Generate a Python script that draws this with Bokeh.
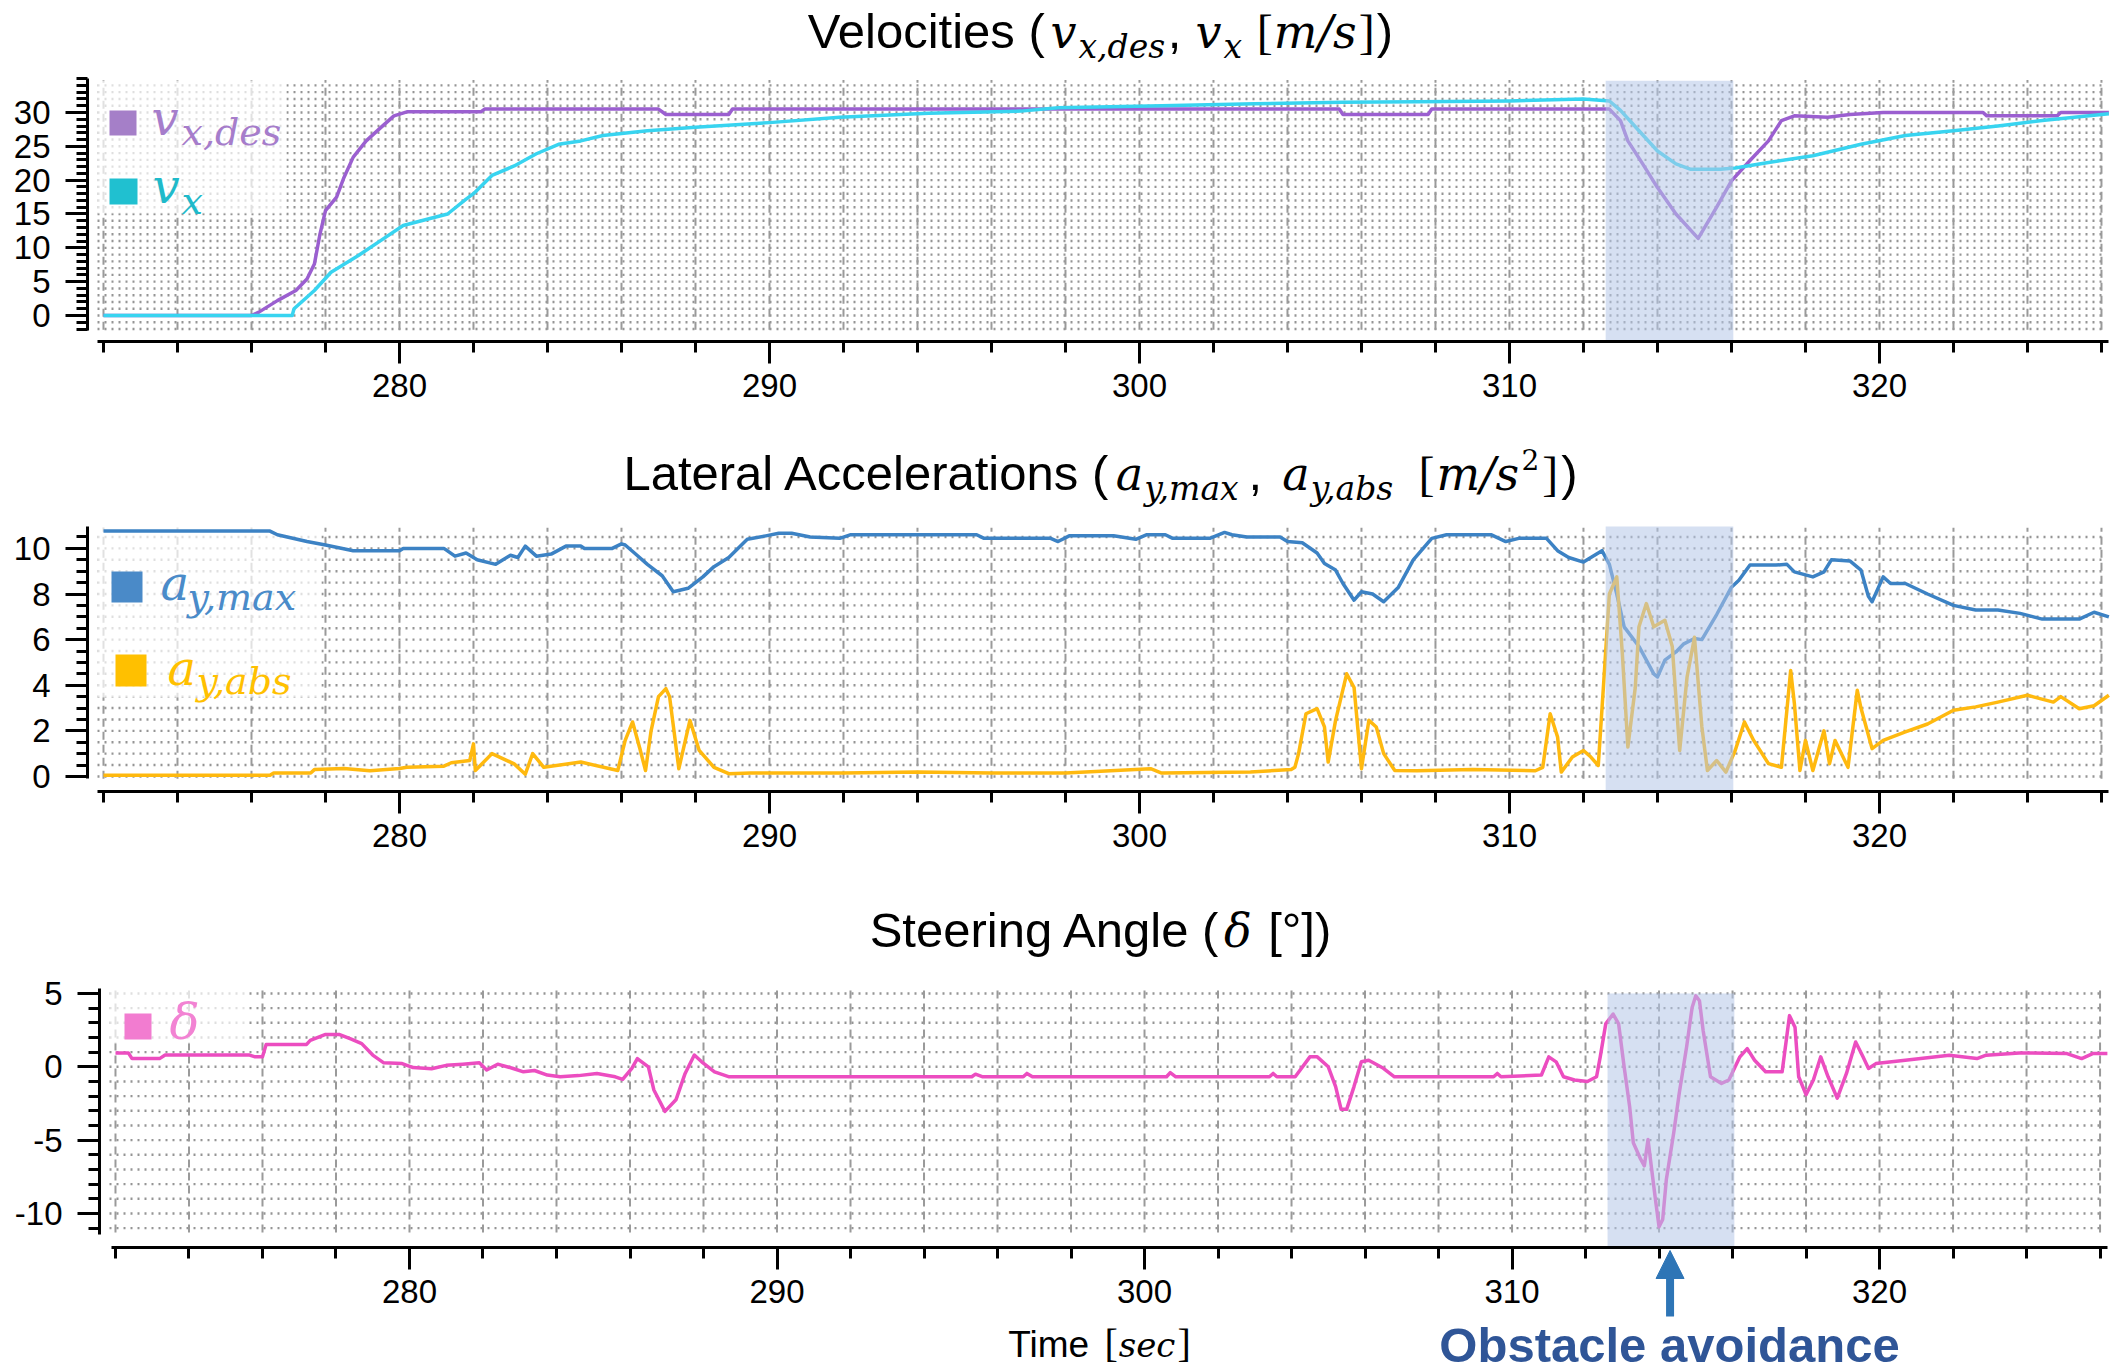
from bokeh.plotting import figure
from bokeh.layouts import column
from bokeh.models import Range1d, FixedTicker, Label, Arrow, NormalHead, PrintfTickFormatter
from bokeh.embed import file_html
from bokeh.resources import INLINE

# ---------------- data (time [s], value) ----------------
vx_des_pts = [(272.0, 0), (276.0, 0), (276.2, 0.5), (276.7, 2.2), (277.2, 3.7), (277.5, 5.4), (277.7, 7.6),
              (277.85, 12.0), (278.0, 15.5), (278.3, 17.5), (278.5, 20.4), (278.75, 23.4), (279.1, 25.8),
              (279.5, 27.8), (279.85, 29.5), (280.2, 30.1), (282.2, 30.1), (282.3, 30.5), (287.0, 30.5),
              (287.2, 29.7), (288.9, 29.7), (289.0, 30.5), (305.4, 30.5), (305.5, 29.7), (307.8, 29.7),
              (307.9, 30.5), (312.7, 30.5), (313.0, 28.8), (313.2, 25.8), (313.6, 22.4), (314.0, 18.9),
              (314.5, 15.0), (315.1, 11.4), (315.6, 16.0), (316.0, 19.9), (316.5, 22.9), (317.0, 25.8),
              (317.35, 28.8), (317.7, 29.5), (318.6, 29.3), (319.2, 29.7), (320.1, 30.0), (322.8, 30.0),
              (322.9, 29.5), (324.8, 29.5), (324.9, 30.0), (326.2, 30.0)]

vx_pts = [(272.0, 0), (277.1, 0), (277.15, 1.0), (277.7, 3.7), (278.15, 6.4), (278.9, 8.9), (279.5, 11.1),
          (280.1, 13.3), (280.8, 14.3), (281.3, 15.0), (281.8, 17.2), (282.0, 18.0), (282.5, 20.7),
          (283.1, 22.1), (283.7, 23.9), (284.3, 25.3), (284.9, 25.8), (285.5, 26.6), (286.7, 27.3),
          (288.0, 27.8), (290.0, 28.5), (291.9, 29.3), (294.3, 29.9), (296.8, 30.2), (297.8, 30.7),
          (300.6, 31.0), (303.1, 31.3), (305.5, 31.5), (307.5, 31.6), (310.0, 31.7), (312.0, 32.0),
          (312.7, 31.7), (313.0, 30.3), (313.5, 27.3), (314.0, 24.3), (314.5, 22.4), (314.9, 21.6),
          (315.7, 21.6), (316.1, 21.8), (317.0, 22.6), (318.2, 23.6), (319.5, 25.3), (320.7, 26.6),
          (322.0, 27.3), (323.2, 28.0), (324.4, 28.8), (326.2, 29.8)]

ay_max_pts = [(272.0, 10.76), (276.5, 10.76), (276.7, 10.6), (277.5, 10.3), (278.0, 10.15), (278.75, 9.9),
              (280.0, 9.9), (280.1, 10.0), (281.2, 10.0), (281.5, 9.66), (281.8, 9.8), (282.1, 9.5),
              (282.6, 9.3), (283.0, 9.7), (283.2, 9.6), (283.4, 10.1), (283.7, 9.66), (284.1, 9.75),
              (284.5, 10.1), (284.9, 10.1), (285.0, 10.0), (285.75, 10.0), (286.0, 10.2), (286.1, 10.15),
              (286.35, 9.8), (286.7, 9.3), (287.1, 8.8), (287.4, 8.1), (287.8, 8.25), (288.2, 8.75),
              (288.5, 9.2), (288.9, 9.6), (289.4, 10.4), (289.9, 10.55), (290.25, 10.66), (290.6, 10.66),
              (291.1, 10.5), (291.9, 10.44), (292.2, 10.6), (295.6, 10.6), (295.8, 10.44), (297.6, 10.44),
              (297.8, 10.3), (298.1, 10.55), (299.3, 10.55), (299.9, 10.4), (300.2, 10.6), (300.7, 10.6),
              (300.9, 10.44), (301.9, 10.44), (302.3, 10.7), (302.5, 10.6), (302.9, 10.5), (303.8, 10.5),
              (304.0, 10.3), (304.4, 10.25), (304.8, 9.8), (305.0, 9.34), (305.3, 9.05), (305.5, 8.46),
              (305.8, 7.73), (306.0, 8.1), (306.3, 8.0), (306.6, 7.66), (307.0, 8.3), (307.4, 9.5),
              (307.9, 10.44), (308.3, 10.6), (309.5, 10.6), (309.9, 10.3), (310.25, 10.44), (311.0, 10.44),
              (311.3, 9.9), (311.6, 9.6), (312.0, 9.4), (312.2, 9.6), (312.5, 9.9), (312.7, 9.3),
              (312.9, 8.0), (313.1, 6.56), (313.5, 5.7), (313.9, 4.5), (314.0, 4.36), (314.2, 5.1),
              (314.5, 5.46), (314.7, 5.8), (315.0, 6.05), (315.2, 6.0), (315.6, 7.1), (316.0, 8.3),
              (316.2, 8.6), (316.5, 9.27), (317.2, 9.27), (317.5, 9.3), (317.7, 8.97), (318.2, 8.75),
              (318.5, 8.97), (318.7, 9.5), (319.2, 9.45), (319.5, 9.05), (319.7, 7.9), (319.8, 7.66),
              (320.1, 8.75), (320.3, 8.46), (320.7, 8.46), (321.3, 8.0), (322.0, 7.5), (322.6, 7.3),
              (323.2, 7.3), (323.8, 7.15), (324.4, 6.9), (325.4, 6.9), (325.8, 7.2), (326.2, 7.0)]

ay_abs_pts = [(272.0, 0.05), (276.5, 0.05), (276.6, 0.15), (277.6, 0.15), (277.7, 0.3), (278.5, 0.35),
              (279.2, 0.25), (280.0, 0.35), (280.2, 0.4), (281.2, 0.45), (281.4, 0.6), (281.9, 0.7),
              (282.0, 1.43), (282.05, 0.26), (282.5, 1.0), (283.1, 0.55), (283.4, 0.1), (283.6, 1.0),
              (283.9, 0.4), (284.9, 0.63), (285.9, 0.26), (286.1, 1.58), (286.3, 2.39), (286.5, 1.2),
              (286.65, 0.26), (286.8, 2.0), (287.0, 3.5), (287.2, 3.85), (287.3, 3.5), (287.55, 0.34),
              (287.85, 2.46), (288.1, 1.14), (288.5, 0.4), (288.9, 0.12), (289.5, 0.15), (292.0, 0.15),
              (294.0, 0.2), (296.0, 0.15), (298.0, 0.15), (300.3, 0.34), (300.6, 0.15), (303.0, 0.2),
              (304.1, 0.3), (304.2, 0.4), (304.3, 1.0), (304.5, 2.75), (304.8, 2.97), (305.0, 2.17),
              (305.1, 0.63), (305.3, 2.46), (305.6, 4.5), (305.8, 3.9), (306.0, 0.34), (306.2, 2.46),
              (306.4, 2.17), (306.6, 1.0), (306.9, 0.26), (307.5, 0.25), (309.0, 0.3), (310.7, 0.25),
              (310.9, 0.4), (311.1, 2.75), (311.3, 1.73), (311.4, 0.19), (311.7, 0.85), (312.0, 1.14),
              (312.2, 0.85), (312.4, 0.48), (312.55, 4.2), (312.7, 8.0), (312.9, 8.75), (313.05, 5.4),
              (313.2, 1.29), (313.4, 3.9), (313.5, 6.56), (313.7, 7.58), (313.9, 6.56), (314.2, 6.85),
              (314.4, 5.7), (314.6, 1.14), (314.8, 4.36), (315.0, 6.1), (315.2, 2.17), (315.35, 0.26),
              (315.6, 0.7), (315.85, 0.19), (316.1, 1.14), (316.35, 2.39), (316.6, 1.58), (317.0, 0.56),
              (317.35, 0.4), (317.6, 4.65), (317.7, 3.2), (317.85, 0.26), (318.0, 1.58), (318.2, 0.26),
              (318.5, 2.0), (318.65, 0.56), (318.8, 1.58), (319.15, 0.4), (319.4, 3.78), (319.5, 3.0),
              (319.8, 1.22), (320.1, 1.58), (320.7, 1.95), (321.3, 2.3), (322.0, 2.9), (322.6, 3.05),
              (323.2, 3.26), (324.0, 3.56), (324.7, 3.26), (324.9, 3.5), (325.4, 2.97), (325.8, 3.1),
              (326.2, 3.56)]

delta_pts = [(272.0, 0.95), (272.35, 0.95), (272.45, 0.56), (273.2, 0.56), (273.35, 0.8), (275.65, 0.8),
             (275.8, 0.68), (276.0, 0.68), (276.1, 1.53), (277.2, 1.53), (277.3, 1.8), (277.7, 2.2),
             (278.1, 2.2), (278.4, 1.9), (278.7, 1.58), (279.0, 0.8), (279.3, 0.27), (279.8, 0.22),
             (280.1, -0.05), (280.6, -0.13), (281.0, 0.1), (281.45, 0.18), (281.9, 0.27), (282.1, -0.22),
             (282.4, 0.18), (282.8, -0.1), (283.1, -0.34), (283.4, -0.25), (283.75, -0.56), (284.1, -0.68),
             (284.6, -0.6), (285.1, -0.45), (285.6, -0.68), (285.8, -0.86), (286.05, -0.1), (286.2, 0.56),
             (286.5, 0.0), (286.65, -1.58), (286.95, -3.04), (287.25, -2.25), (287.5, -0.45), (287.75, 0.8),
             (287.95, 0.34), (288.3, -0.34), (288.7, -0.68), (295.3, -0.68), (295.4, -0.5), (295.6, -0.68),
             (296.7, -0.68), (296.8, -0.45), (296.95, -0.68), (300.6, -0.68), (300.7, -0.4), (300.85, -0.68),
             (303.4, -0.68), (303.5, -0.45), (303.6, -0.68), (304.1, -0.68), (304.5, 0.68), (304.7, 0.68),
             (305.0, 0.0), (305.2, -1.35), (305.35, -2.9), (305.5, -2.9), (305.7, -1.35), (305.9, 0.34),
             (306.1, 0.45), (306.5, -0.1), (306.8, -0.68), (309.5, -0.68), (309.6, -0.45), (309.7, -0.68),
             (310.8, -0.56), (311.0, 0.68), (311.2, 0.34), (311.4, -0.68), (311.7, -0.9), (312.05, -1.0),
             (312.3, -0.68), (312.4, 0.68), (312.55, 2.93), (312.75, 3.6), (312.9, 2.93), (313.05, 0.0),
             (313.2, -2.7), (313.3, -5.18), (313.5, -6.3), (313.6, -6.75), (313.7, -4.95), (313.8, -7.0),
             (313.9, -9.0), (314.0, -10.9), (314.1, -10.4), (314.2, -7.66), (314.4, -4.5), (314.55, -1.8),
             (314.75, 1.35), (314.9, 4.05), (315.0, 4.84), (315.1, 4.5), (315.2, 2.48), (315.4, -0.68),
             (315.7, -1.13), (315.9, -0.9), (316.2, 0.68), (316.4, 1.24), (316.6, 0.45), (316.9, -0.34),
             (317.35, -0.34), (317.55, 3.49), (317.7, 2.7), (317.8, -0.68), (318.0, -1.9), (318.2, -0.9),
             (318.4, 0.68), (318.6, -0.68), (318.85, -2.14), (319.1, -0.45), (319.35, 1.69), (319.55, 0.68),
             (319.7, -0.11), (319.9, 0.22), (320.7, 0.45), (321.9, 0.79), (322.65, 0.56), (322.9, 0.79),
             (323.8, 0.95), (325.1, 0.9), (325.5, 0.56), (325.8, 0.9), (326.2, 0.9)]

avoid_start, avoid_end = 312.6, 316.05     # shaded obstacle-avoidance window
avoid_arrow_t = 314.3

x_major = [280, 290, 300, 310, 320]
x_minor = list(range(272, 327, 2))
v_major = [0, 5, 10, 15, 20, 25, 30]
v_minor = list(range(-2, 36))
a_major = [0, 2, 4, 6, 8, 10]
a_minor = [i * 0.5 for i in range(0, 22)]
d_major = [-10, -5, 0, 5]
d_minor = list(range(-11, 6))

# ---------------- layout constants (pixel geometry of the picture) ----------------
FIG_W = 2121
SANS = "Liberation Sans"
MATH = "DejaVu Serif"
SERIF = "Liberation Serif"
BASE_SHIFT = 0.31   # Bokeh places the alphabetic baseline this many em lower than asked

# L,T,W,H: plotting area (axis-line corner) in page pixels; xr/yr: data values at its edges
SPEC = {
    "v": dict(top=0, height=418, L=87, T=78, W=2021, H=263, xr=(271.568, 326.19), yr=(-3.84, 35.02)),
    "a": dict(top=418, height=457, L=87, T=526, W=2021, H=265, xr=(271.568, 326.19), yr=(-0.66, 10.96)),
    "d": dict(top=875, height=496, L=99, T=988, W=2009, H=259, xr=(271.565, 326.23), yr=(-12.32, 5.34)),
}

# approximate advance widths (em) used to chain title pieces
ADV = {
    SANS: {' ': .278, '(': .333, ')': .333, '[': .278, ']': .278, ',': .278, '°': .4, 'A': .667,
           'L': .556, 'S': .667, 'T': .611, 'V': .667, 'a': .556, 'c': .5, 'e': .556, 'g': .556,
           'i': .222, 'l': .222, 'm': .833, 'n': .556, 'o': .556, 'r': .333, 's': .5, 't': .278},
    MATH: {'v': .586, 'x': .586, 'y': .586, 'a': .598, 'b': .637, 'd': .637, 'e': .590, 'm': .950,
           's': .519, 'c': .560, ',': .318, '/': .337, 'δ': .612, '2': .636},
    SERIF: {'[': .333, ']': .333},
}


def X(s, px):
    return s["xr"][0] + (px - s["L"]) / s["W"] * (s["xr"][1] - s["xr"][0])


def Y(s, py):
    return s["yr"][1] - (py - s["T"]) / s["H"] * (s["yr"][1] - s["yr"][0])


def make_panel(s, y_major, y_minor, y_bounds, x_bound_left_px):
    # the frame fills the whole figure; axes are pinned at the plotting-area corner
    p = figure(width=FIG_W, height=s["height"],
               x_range=Range1d(X(s, 0), X(s, FIG_W)),
               y_range=Range1d(Y(s, s["top"] + s["height"]), Y(s, s["top"])),
               output_backend="svg", toolbar_location=None,
               min_border_left=0, min_border_right=0, min_border_top=0, min_border_bottom=0)
    p.title.visible = False
    p.outline_line_color = None
    p.background_fill_color = "white"
    p.border_fill_color = "white"
    p.xgrid.visible = False
    p.ygrid.visible = False
    p.xaxis.fixed_location = s["yr"][0]
    p.yaxis.fixed_location = s["xr"][0]
    specs = ((p.xaxis[0], x_major, x_minor, (X(s, x_bound_left_px), 326.2), 10),
             (p.yaxis[0], y_major, y_minor, y_bounds, 15))
    for ax, major, minor, b, standoff in specs:
        ax.ticker = FixedTicker(ticks=major, minor_ticks=minor)
        ax.formatter = PrintfTickFormatter(format="%d")
        ax.bounds = b
        ax.axis_line_width = 3
        ax.axis_line_color = "black"
        ax.major_tick_line_width = 3
        ax.major_tick_line_color = "black"
        ax.major_tick_out = 22
        ax.major_tick_in = 0
        ax.minor_tick_line_width = 3
        ax.minor_tick_line_color = "black"
        ax.minor_tick_out = 11
        ax.minor_tick_in = 0
        ax.major_label_text_font = SANS
        ax.major_label_text_font_size = "33px"
        ax.major_label_text_color = "black"
        ax.major_label_standoff = standoff
    return p


def draw_grid(p, s, hys, hx0_px, vy0, vy1):
    hx0, hx1 = X(s, hx0_px), 326.1
    p.multi_line(xs=[[hx0, hx1] for _ in hys], ys=[[y, y] for y in hys],
                 line_color="#959595", line_width=2.4, line_dash="2 5")
    p.multi_line(xs=[[x, x] for x in x_minor], ys=[[vy0, vy1] for _ in x_minor],
                 line_color="#9a9a9a", line_width=2, line_dash="8 5")


def legend_bg(p, s, l, t, r, b):
    p.quad(left=X(s, l), right=X(s, r), top=Y(s, t), bottom=Y(s, b),
           fill_color="white", fill_alpha=0.7, line_color=None)


def legend_sq(p, s, l, t, r, b, color):
    p.quad(left=X(s, l), right=X(s, r), top=Y(s, t), bottom=Y(s, b),
           fill_color=color, line_color=None)


def shade(p, s, top):
    p.quad(left=avoid_start, right=avoid_end, bottom=s["yr"][0], top=top,
           fill_color="#B4C7E7", fill_alpha=0.55, line_color=None)


def txt(p, s, text, px, py, size, font=SANS, style="normal", color="black", align="left"):
    p.add_layout(Label(x=X(s, px), y=Y(s, py - BASE_SHIFT * size), text=text, text_font=font,
                       text_font_size=f"{size}px", text_font_style=style,
                       text_color=color, text_align=align, text_baseline="alphabetic"))


def rich(p, s, runs, center_px, base_py, color="black"):
    # runs: (text, font, size, style, baseline shift, extra gap before)
    widths = [sum(ADV[f].get(ch, .55) for ch in t) * sz for t, f, sz, st, dy, g in runs]
    total = sum(widths) + sum(r[5] for r in runs)
    x = center_px - total / 2
    for (t, f, sz, st, dy, g), w in zip(runs, widths):
        x += g
        txt(p, s, t, x, base_py + dy, sz, f, st, color)
        x += w


def series(p, pts, color):
    t = [a for a, _ in pts]
    v = [b for _, b in pts]
    p.line(t, v, line_color=color, line_width=3.5, line_join="round")


TS, MS, SS = 49, 46, 33     # title sans, math and subscript sizes

# ---------------- panel 1: velocities ----------------
s1 = SPEC["v"]
p1 = make_panel(s1, v_major, v_minor, (-2.2, 35.0), 97)
draw_grid(p1, s1, list(range(-2, 35)), 97, -2.1, 34.8)
legend_bg(p1, s1, 97, 80, 286, 213)
series(p1, vx_des_pts, "#9B5FD0")
series(p1, vx_pts, "#38D4F0")
shade(p1, s1, 34.7)
legend_sq(p1, s1, 109, 110, 136, 135, "#A57FC8")
legend_sq(p1, s1, 109, 178, 137, 204, "#20C0D0")
txt(p1, s1, "v", 151, 132, 48, MATH, "italic", "#A67DCB")
txt(p1, s1, "x,des", 181, 143, 38, MATH, "italic", "#A67DCB")
txt(p1, s1, "v", 152, 200, 48, MATH, "italic", "#1FBACA")
txt(p1, s1, "x", 181, 212, 38, MATH, "italic", "#1FBACA")
rich(p1, s1, [("Velocities (", SANS, TS, "normal", 0, 0),
              ("v", MATH, MS, "italic", 0, 3),
              ("x,des", MATH, SS, "italic", 10, 1),
              (",", SANS, TS, "normal", 0, 2),
              ("v", MATH, MS, "italic", 0, 14),
              ("x", MATH, SS, "italic", 10, 1),
              ("[", SERIF, 48, "normal", 0, 14),
              ("m/s", MATH, MS, "italic", 0, 1),
              ("]", SERIF, 48, "normal", 0, 2),
              (")", SANS, TS, "normal", 0, 2)], 1100, 46)

# ---------------- panel 2: lateral accelerations ----------------
s2 = SPEC["a"]
p2 = make_panel(s2, a_major, a_minor, (-0.1, 10.96), 97)
draw_grid(p2, s2, [i * 0.5 for i in range(0, 22)], 97, -0.1, 10.9)
legend_bg(p2, s2, 97, 527, 321, 697)
series(p2, ay_max_pts, "#3C82C4")
series(p2, ay_abs_pts, "#FFB90F")
shade(p2, s2, s2["yr"][1])
legend_sq(p2, s2, 111, 571, 142, 602, "#4A8AC8")
legend_sq(p2, s2, 115, 654, 146, 686, "#FFC000")
txt(p2, s2, "a", 160, 597, 48, MATH, "italic", "#4A8BC9")
txt(p2, s2, "y,max", 187, 608, 38, MATH, "italic", "#4A8BC9")
txt(p2, s2, "a", 167, 682, 48, MATH, "italic", "#FFC000")
txt(p2, s2, "y,abs", 196, 692, 38, MATH, "italic", "#FFC000")
rich(p2, s2, [("Lateral Accelerations (", SANS, TS, "normal", 0, 0),
              ("a", MATH, MS, "italic", 0, 5),
              ("y,max", MATH, SS, "italic", 10, 1),
              (",", SANS, TS, "normal", 0, 4),
              ("a", MATH, MS, "italic", 0, 20),
              ("y,abs", MATH, SS, "italic", 10, 1),
              ("[", SERIF, 48, "normal", 0, 20),
              ("m/s", MATH, MS, "italic", 0, 2),
              ("2", MATH, 28, "normal", -20, 2),
              ("]", SERIF, 48, "normal", 0, 3),
              (")", SANS, TS, "normal", 0, 3)], 1100, 488)

# ---------------- panel 3: steering angle ----------------
s3 = SPEC["d"]
p3 = make_panel(s3, d_major, d_minor, (-11.4, 5.34), 111)
draw_grid(p3, s3, list(range(-11, 6)), 109, -11.3, 5.2)
legend_bg(p3, s3, 109, 988, 248, 1043)
series(p3, delta_pts, "#EC4DC0")
shade(p3, s3, 5.0)
legend_sq(p3, s3, 124, 1013, 151, 1039, "#F27CD0")
txt(p3, s3, "δ", 169, 1037, 50, MATH, "italic", "#F283D3")
rich(p3, s3, [("Steering Angle (", SANS, TS, "normal", 0, 0),
              ("δ", MATH, MS, "italic", 0, 3),
              ("[°])", SANS, TS, "normal", 0, 16)], 1100, 945)
rich(p3, s3, [("Time", SANS, 37, "normal", 0, 0),
              ("[", SERIF, 40, "normal", 0, 14),
              ("sec", MATH, 34, "italic", 0, 1),
              ("]", SERIF, 40, "normal", 0, 2)], 1099, 1355)
# annotation
p3.add_layout(Arrow(end=NormalHead(size=28, fill_color="#2E75B6", line_color="#2E75B6"),
                    x_start=avoid_arrow_t, y_start=Y(s3, 1316),
                    x_end=avoid_arrow_t, y_end=Y(s3, 1250),
                    line_color="#2E75B6", line_width=8))
txt(p3, s3, "Obstacle avoidance", 1669, 1360, 49, SANS, "bold", "#2F5597", "center")

layout = column(p1, p2, p3)
open("out.html", "w").write(file_html(layout, INLINE))
